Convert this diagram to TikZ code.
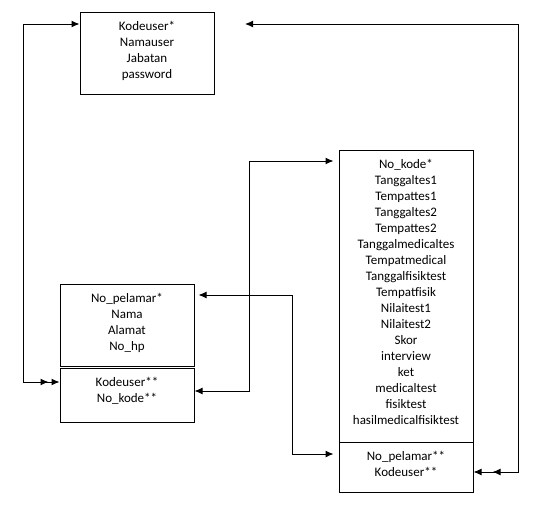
\documentclass[tikz,border=0pt]{standalone}
\usepackage{fontspec}
\setmainfont{Carlito}
\usepackage{tikz}
\usetikzlibrary{positioning}
\usetikzlibrary{arrows.meta}
\tikzset{edge/.style = {line width=1pt}}

\begin{document}
\begin{tikzpicture}[x=1pt,y=-1pt,line width=1pt,
  tabel/.style={draw,minimum width=134pt,inner sep=0pt},
  fields/.style={align=center,inner sep=0pt,font=\fontsize{13}{16}\selectfont}]
\useasboundingbox (0,0) rectangle (548,512);

% tabel
\node[tabel,minimum height=82pt] (user) at (147,53) {};
\node[tabel,minimum height=82pt] (pelamar) at (127,325) {};
\node[tabel,minimum height=54pt] (pelamarfk) at (127,395) {};
\node[tabel,minimum height=292pt] (tes) at (406,296) {};
\node[tabel,minimum height=50pt] (tesfk) at (406,467) {};

% isi tabel
\node[fields,below=9pt of user.north] (userisi) {Kodeuser*\\Namauser\\Jabatan\\password};
\node[fields,below=9pt of pelamar.north] (pelamarisi) {No\_pelamar*\\Nama\\Alamat\\No\_hp};
\node[fields,below=9pt of pelamarfk.north] (pelamarfkisi) {Kodeuser**\\No\_kode**};
\node[fields,below=9pt of tes.north] (tesisi) {No\_kode*\\Tanggaltes1\\Tempattes1\\Tanggaltes2\\Tempattes2\\Tanggalmedicaltes\\Tempatmedical\\Tanggalfisiktest\\Tempatfisik\\Nilaitest1\\Nilaitest2\\Skor\\interview\\ket\\medicaltest\\fisiktest\\hasilmedicalfisiktest};
\node[fields,below=9pt of tesfk.north] (tesfkisi) {No\_pelamar**\\Kodeuser**};

\coordinate (ujung) at (245,24);

% relasi
\draw[edge,{Latex[length=8pt,width=7pt]}-{Latex[length=8pt,width=7pt,sep=3pt]Latex[length=8pt,width=7pt]}]
  (user.west |- 0,24) -- (23,24) -- (23,382) -- (pelamarfk.west |- 0,382);
\draw[edge,{Latex[length=8pt,width=7pt]}-{Latex[length=8pt,width=7pt,sep=11pt]Latex[length=8pt,width=7pt]}]
  (ujung) -- (518,24) -- (518,472) -- (tesfk.east |- 0,472);
\draw[edge,{Latex[length=8pt,width=7pt]}-{Latex[length=8pt,width=7pt]},shorten >=5pt]
  (pelamarfk.east |- 0,391) -- (249,391) -- (249,161) -- (tes.west |- 0,161);
\draw[edge,{Latex[length=8pt,width=7pt]}-{Latex[length=8pt,width=7pt]},shorten <=4pt,shorten >=5pt]
  (pelamar.east |- 0,295) -- (292,295) -- (292,454) -- (tesfk.west |- 0,454);

\end{tikzpicture}
\end{document}
